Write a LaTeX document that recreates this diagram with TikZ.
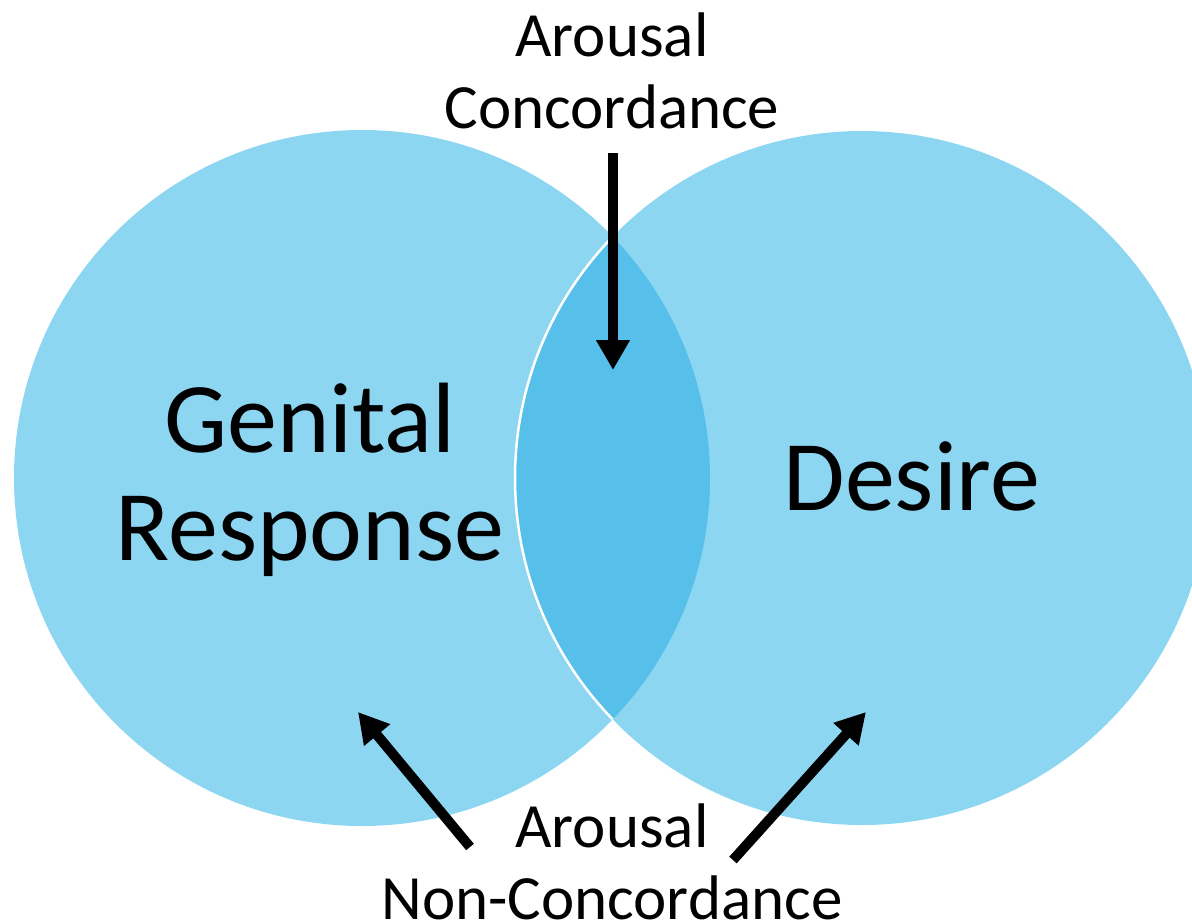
\documentclass[tikz,border=0pt]{standalone}
\usepackage{fontspec}
\setmainfont{Carlito}
\usetikzlibrary{arrows.meta}
\definecolor{vennblue}{HTML}{8DD6F1}
\definecolor{lensblue}{HTML}{56C0EA}
\tikzset{
  bigtext/.style={align=center, font=\fontsize{100}{108}\selectfont},
  smalltext/.style={align=center, font=\fontsize{63}{72}\selectfont},
  fatarrow/.style={line width=10pt, -{Triangle[width=32pt,length=30pt]}}
}

\begin{document}
\begin{tikzpicture}[x=1pt,y=-1pt]
  \useasboundingbox (0,0) rectangle (1192,922);
  \coordinate (gc) at (362,478);
  \coordinate (dc) at (862,478);
  % the two sets
  \fill[vennblue] (gc) circle(348);
  \fill[vennblue] (dc) circle(347);
  % the overlap
  \begin{scope}
    \clip (gc) circle(348);
    \fill[lensblue] (dc) circle(347);
    \draw[white, line width=2.5pt] (dc) circle(347);
  \end{scope}
  % labels
  \node[bigtext] (genital) at (310,480) {Genital\\Response};
  \node[bigtext] (desire) at (912,476) {Desire};
  \node[smalltext] (concord) at (612,71) {Arousal\\Concordance};
  \node[smalltext] (nonconcord) at (612,862) {Arousal\\Non-Concordance};
  % arrows
  \coordinate (toptail) at (613,153);
  \coordinate (toptip) at (613,370);
  \coordinate (lefttail) at (470,847);
  \coordinate (lefttip) at (358,712);
  \coordinate (righttail) at (733,860);
  \coordinate (righttip) at (866,712);
  \draw[fatarrow] (toptail) -- (toptip);
  \draw[fatarrow] (lefttail) -- (lefttip);
  \draw[fatarrow] (righttail) -- (righttip);
\end{tikzpicture}
\end{document}
